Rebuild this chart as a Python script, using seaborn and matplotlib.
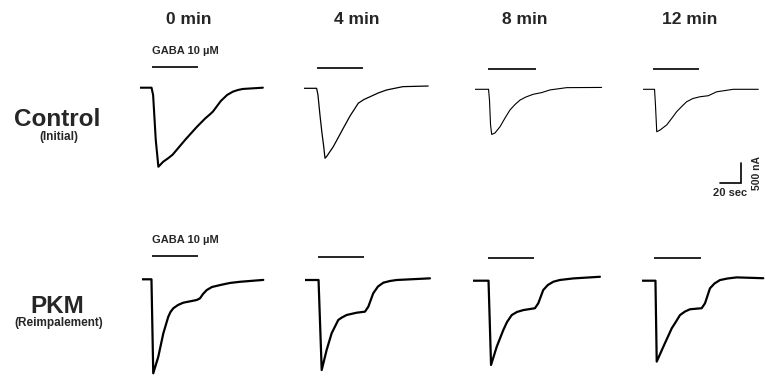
import numpy as np
import pandas as pd
import matplotlib
matplotlib.use("Agg")
import matplotlib.pyplot as plt
import seaborn as sns

# ---------------- data (time in s from trace start, current in nA) ----------------
times = ["0 min", "4 min", "8 min", "12 min"]
rows = ["Control", "PKM"]
row_sub = ["(Initial)", "(Reimpalement)"]
gaba_label = "GABA 10 \u00b5M"

ctrl_0_t = [0, 11, 12.5, 15, 17.5, 22, 27, 31, 43, 54, 62, 67, 69.5, 72, 77, 83, 88.5, 93.3, 98, 117]
ctrl_0_i = [0, 0, -180, -1260, -1910, -1790, -1700, -1620, -1260, -950, -745, -635, -575, -490, -320, -175, -95, -55, -30, 0]
ctrl_4_t = [0, 12, 13.3, 15.2, 17.1, 18.6, 20, 21.9, 27.9, 37.4, 43.8, 51.7, 57.1, 62.8, 70.5, 78.7, 94.2, 118.3]
ctrl_4_i = [0, 0, -160, -645, -1080, -1370, -1690, -1635, -1410, -965, -670, -360, -270, -205, -115, -40, 40, 55]
ctrl_8_t = [0, 12.9, 13.8, 14.8, 15.9, 19, 23.8, 28.6, 33.3, 38.1, 42.9, 48.5, 55.5, 63.5, 71.4, 87.3, 120.6]
ctrl_8_i = [0, 0, -260, -860, -1090, -1055, -905, -693, -500, -367, -260, -186, -120, -80, -15, 40, 45]
ctrl_12_t = [0, 10.7, 11.6, 12.8, 15.9, 22.3, 27, 31.8, 36.6, 41.3, 47.3, 54, 61.9, 69.9, 85.7, 109.5]
ctrl_12_i = [0, 0, -380, -1025, -985, -860, -705, -540, -415, -300, -222, -180, -155, -60, 0, 0]

pkm_0_t = [0, 9.3, 11, 15.8, 20.6, 25.3, 27.4, 30.1, 34.6, 39.6, 52.4, 55.5, 58.4, 61.9, 66.9, 74.5, 83.9, 93.6, 115.8]
pkm_0_i = [0, 0, -2270, -1870, -1305, -905, -790, -700, -620, -565, -500, -460, -355, -260, -186, -140, -89, -60, -15]
pkm_4_t = [0, 12.9, 15.9, 20.6, 25.4, 31.7, 35.2, 39.7, 49.2, 57.1, 60.3, 65, 69.5, 74.6, 80.9, 87.3, 119]
pkm_4_i = [0, 0, -2175, -1690, -1285, -965, -905, -845, -790, -765, -645, -320, -157, -65, -24, 0, 40]
pkm_8_t = [0, 14.5, 16.9, 22.3, 28.6, 32.1, 36.6, 41.6, 47.6, 58.7, 61.9, 66.6, 71, 76.2, 82.4, 95.2, 120.6]
pkm_8_i = [0, 0, -2035, -1595, -1190, -998, -830, -755, -710, -665, -545, -225, -104, -25, 17, 55, 95]
pkm_12_t = [0, 13.1, 14.3, 20.6, 28.6, 32.2, 36.5, 41.2, 46, 57.1, 60.3, 65, 69.3, 74.5, 81.7, 90.4, 115.8]
pkm_12_i = [0, 0, -1955, -1595, -1150, -1007, -830, -745, -690, -665, -545, -185, -68, 15, 53, 80, 60]

# GABA application bars (start, end) in s
ctrl_gaba_on = [11.1, 12.7, 12.7, 9.5]
ctrl_gaba_off = [55.5, 55.9, 58.1, 53.3]
pkm_gaba_on = [9.5, 12.7, 14.3, 11.7]
pkm_gaba_off = [53.9, 56.2, 58.1, 56.2]

scale_t = 20     # s
scale_i = 500    # nA

traces = [
    [(ctrl_0_t, ctrl_0_i), (ctrl_4_t, ctrl_4_i), (ctrl_8_t, ctrl_8_i), (ctrl_12_t, ctrl_12_i)],
    [(pkm_0_t, pkm_0_i), (pkm_4_t, pkm_4_i), (pkm_8_t, pkm_8_i), (pkm_12_t, pkm_12_i)],
]
gaba_on = [ctrl_gaba_on, pkm_gaba_on]
gaba_off = [ctrl_gaba_off, pkm_gaba_off]

# ---------------- layout ----------------
W, H = 765, 384
SX = 21 / 20.0       # px per s
SY = 20.7 / 500.0    # px per nA
XLIM = (0, 130)
YLIM = (-2500, 700)
panel_x0 = [[140, 304, 475, 643.3], [141.7, 305, 473.3, 641.7]]
panel_y0 = [[87.7, 88.3, 89.3, 89.3], [279.3, 280, 280.7, 280.7]]
bar_level = [490, 560]
trace_lw = [[1.5, 0.9, 0.8, 0.8], [1.6, 1.6, 1.6, 1.6]]

sns.set_style("white")
plt.rcParams['font.family'] = ['Liberation Sans', 'DejaVu Sans']

fig = plt.figure(figsize=(W / 100, H / 100), dpi=100)
fig.patch.set_facecolor("white")

axes = [[None] * 4 for _ in range(2)]
for r in range(2):
    for c in range(4):
        x0 = panel_x0[r][c]
        y0 = panel_y0[r][c]
        wpx = (XLIM[1] - XLIM[0]) * SX
        hpx = (YLIM[1] - YLIM[0]) * SY
        top = y0 - YLIM[1] * SY
        ax = fig.add_axes([x0 / W, 1 - (top + hpx) / H, wpx / W, hpx / H])
        ax.set_xlim(*XLIM)
        ax.set_ylim(*YLIM)
        ax.axis("off")
        t, i = traces[r][c]
        df = pd.DataFrame({"t": t, "i": i})
        sns.lineplot(data=df, x="t", y="i", ax=ax, sort=False, estimator=None,
                     color="black", lw=trace_lw[r][c])
        ax.lines[-1].set_solid_joinstyle("round")
        ax.plot([gaba_on[r][c], gaba_off[r][c]], [bar_level[r]] * 2,
                color="black", lw=1.2, solid_capstyle="butt", clip_on=False)
        if c == 0:
            ax.text(gaba_on[r][c], bar_level[r] + 270, gaba_label, fontsize=8,
                    fontweight="bold", ha="left", va="bottom")
        axes[r][c] = ax

# column titles
title_x = [189, 356.7, 524.5, 690]
for c, lab in enumerate(times):
    fig.text(title_x[c] / W, 1 - 20 / H, lab, fontsize=12.5, fontweight="bold",
             ha="center", va="center")

# row labels
row_y = [119.3, 306.7]
sub_y = [136.7, 323.3]
for r in range(2):
    fig.text(57 / W, 1 - row_y[r] / H, rows[r], fontsize=17.5, fontweight="bold",
             ha="center", va="center")
    fig.text(59 / W, 1 - sub_y[r] / H, row_sub[r], fontsize=8.5, fontweight="bold",
             ha="center", va="center")

# scale bar in the control 12-min panel
ax = axes[0][3]
sb_t = 73
sb_i = -2270
ax.plot([sb_t, sb_t + scale_t, sb_t + scale_t], [sb_i, sb_i, sb_i + scale_i],
        color="black", lw=1.2, clip_on=False, solid_joinstyle="miter")
ax.text(sb_t + scale_t / 2, sb_i - 110, f"{scale_t} sec", fontsize=8,
        fontweight="bold", ha="center", va="top")
ax.text(sb_t + scale_t + 15, sb_i + scale_i / 2, f"{scale_i} nA", fontsize=7.5,
        fontweight="bold", ha="center", va="center", rotation=90)

fig.savefig("out.png", dpi=100, facecolor="white")
